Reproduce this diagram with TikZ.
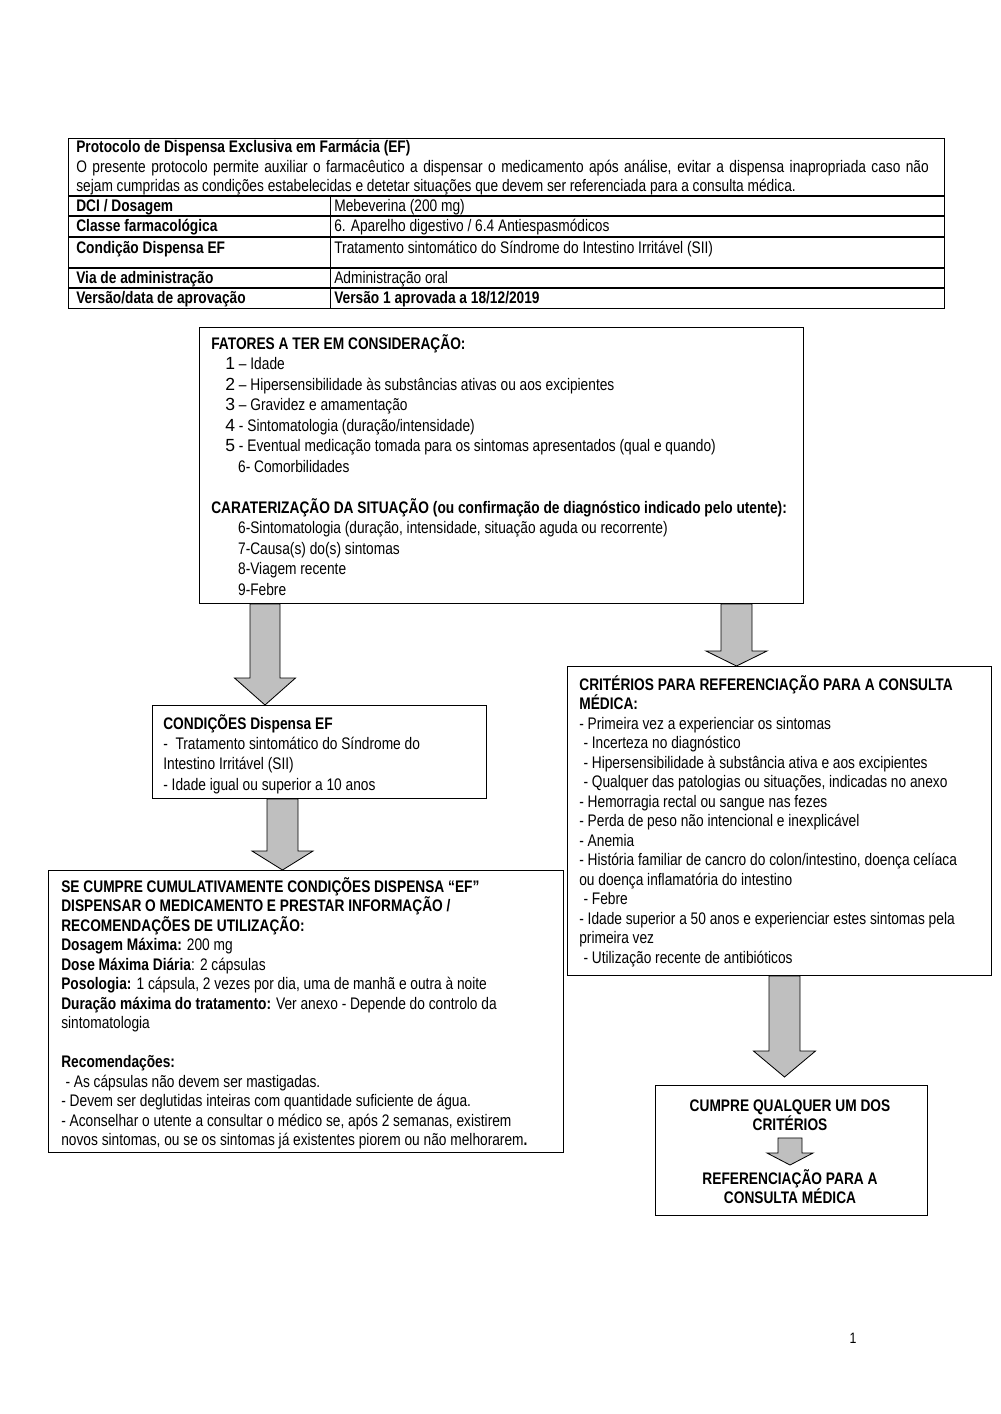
\documentclass[tikz,border=0pt]{standalone}
\usepackage{fontspec}
\setmainfont{Liberation Sans}[FakeStretch=0.82]
\newfontfamily\digitfont{Liberation Sans}
\usetikzlibrary{calc,positioning}
\setlength{\lineskiplimit}{-20pt}

\newdimen\pxu \pxu=0.021cm
\newcommand{\fnum}[1]{{\digitfont\fontsize{10.5}{12}\selectfont #1}}
% block arrow: from, tip, shaft half width, head half width, head length
\newcommand{\blockarrow}[5]{%
  \draw[barrow] ($(#1)+(-#3,0)$) -- ($(#2)+(-#3,-#5)$) -- ($(#2)+(-#4,-#5)$) -- (#2)
    -- ($(#2)+(#4,-#5)$) -- ($(#2)+(#3,-#5)$) -- ($(#1)+(#3,0)$) -- cycle;}

\begin{document}
\begin{tikzpicture}[x=0.021cm,y=-0.021cm,
  box/.style 2 args={draw,line width=0.6pt,anchor=north west,inner sep=0pt,
    minimum width=#1\pxu,minimum height=#2\pxu},
  txt/.style={anchor=north west,inner sep=0pt,align=left,font=\fontsize{10}{11.65}\selectfont},
  ctxt/.style={anchor=north,inner sep=0pt,align=center,font=\fontsize{10}{11.65}\selectfont\bfseries},
  barrow/.style={draw,line width=0.5pt,fill=gray!50,line join=miter}]
\useasboundingbox (0,0) rectangle (1000,1414);

% table
\node[box={876}{170}] (tab) at (68,138) {};
\foreach \ry in {58,78,99,130,150}
  \draw[line width=0.6pt] ($(tab.north west)+(0,\ry)$) -- ($(tab.north east)+(0,\ry)$);
\draw[line width=0.6pt] ($(tab.north west)+(262,58)$) -- ($(tab.south west)+(262,0)$);
\node[txt] (head) at (76,139) {\strut\textbf{Protocolo de Dispensa Exclusiva em Farmácia (EF)}\\
  \hbox to 17.9cm{O presente protocolo permite auxiliar o farmacêutico a dispensar o medicamento após análise, evitar a dispensa inapropriada caso não}\\
  sejam cumpridas as condições estabelecidas e detetar situações que devem ser referenciada para a consulta médica.};
\node[txt] (k1) at (76,198) {\strut\textbf{DCI / Dosagem}};
\node[txt] (v1) at (334,198) {\strut Mebeverina (200 mg)};
\node[txt] (k2) at (76,218) {\strut\textbf{Classe farmacológica}};
\node[txt] (v2) at (334,218) {\strut 6. Aparelho digestivo / 6.4 Antiespasmódicos};
\node[txt] (k3) at (76,240) {\strut\textbf{Condição Dispensa EF}};
\node[txt] (v3) at (334,240) {\strut Tratamento sintomático do Síndrome do Intestino Irritável (SII)};
\node[txt] (k4) at (76,270) {\strut\textbf{Via de administração}};
\node[txt] (v4) at (334,270) {\strut Administração oral};
\node[txt] (k5) at (76,290) {\strut\textbf{Versão/data de aprovação}};
\node[txt] (v5) at (334,290) {\strut\textbf{Versão 1 aprovada a 18/12/2019}};

% boxes
\node[box={604}{276}] (fat) at (199,327) {};
\node[box={334}{93}] (cond) at (152,705) {};
\node[box={424}{309}] (crit) at (567,666) {};
\node[box={515}{282}] (se) at (48,870) {};
\node[box={272}{130}] (cumpre) at (655,1085) {};

\node[txt,font=\fontsize{10}{12.25}\selectfont] (fattxt) at (211,334) {\strut\textbf{FATORES A TER EM CONSIDERAÇÃO:}\\
  \hspace*{8.4pt}\fnum{1} – Idade\\
  \hspace*{8.4pt}\fnum{2} – Hipersensibilidade às substâncias ativas ou aos excipientes\\
  \hspace*{8.4pt}\fnum{3} – Gravidez e amamentação\\
  \hspace*{8.4pt}\fnum{4} - Sintomatologia (duração/intensidade)\\
  \hspace*{8.4pt}\fnum{5} - Eventual medicação tomada para os sintomas apresentados (qual e quando)\\
  \hspace*{16pt}6- Comorbilidades\\[12.25pt]
  \textbf{CARATERIZAÇÃO DA SITUAÇÃO (ou confirmação de diagnóstico indicado pelo utente):}\\
  \hspace*{16pt}6-Sintomatologia (duração, intensidade, situação aguda ou recorrente)\\
  \hspace*{16pt}7-Causa(s) do(s) sintomas\\
  \hspace*{16pt}8-Viagem recente\\
  \hspace*{16pt}9-Febre};

\node[txt,font=\fontsize{10}{12.1}\selectfont] (condtxt) at (163,714) {\strut\textbf{CONDIÇÕES Dispensa EF}\\
  -\ \ Tratamento sintomático do Síndrome do\\
  Intestino Irritável (SII)\\
  - Idade igual ou superior a 10 anos};

\node[txt] (crittxt) at (579,675) {\strut\textbf{CRITÉRIOS PARA REFERENCIAÇÃO PARA A CONSULTA}\\
  \textbf{MÉDICA:}\\
  - Primeira vez a experienciar os sintomas\\
  \hspace*{2.5pt}- Incerteza no diagnóstico\\
  \hspace*{2.5pt}- Hipersensibilidade à substância ativa e aos excipientes\\
  \hspace*{2.5pt}- Qualquer das patologias ou situações, indicadas no anexo\\
  - Hemorragia rectal ou sangue nas fezes\\
  - Perda de peso não intencional e inexplicável\\
  - Anemia\\
  - História familiar de cancro do colon/intestino, doença celíaca\\
  ou doença inflamatória do intestino\\
  \hspace*{2.5pt}- Febre\\
  - Idade superior a 50 anos e experienciar estes sintomas pela\\
  primeira vez\\
  \hspace*{2.5pt}- Utilização recente de antibióticos};

\node[txt] (setxt) at (61,877) {\strut\textbf{SE CUMPRE CUMULATIVAMENTE CONDIÇÕES DISPENSA “EF”}\\
  \textbf{DISPENSAR O MEDICAMENTO E PRESTAR INFORMAÇÃO /}\\
  \textbf{RECOMENDAÇÕES DE UTILIZAÇÃO:}\\
  \textbf{Dosagem Máxima:} 200 mg\\
  \textbf{Dose Máxima Diária}: 2 cápsulas\\
  \textbf{Posologia:} 1 cápsula, 2 vezes por dia, uma de manhã e outra à noite\\
  \textbf{Duração máxima do tratamento:} Ver anexo - Depende do controlo da\\
  sintomatologia\\[11.65pt]
  \textbf{Recomendações:}\\
  \hspace*{2.5pt}- As cápsulas não devem ser mastigadas.\\
  - Devem ser deglutidas inteiras com quantidade suficiente de água.\\
  - Aconselhar o utente a consultar o médico se, após 2 semanas, existirem\\
  novos sintomas, ou se os sintomas já existentes piorem ou não melhorarem\textbf{.}};

\node[ctxt] (q1) at (790,1097) {\strut CUMPRE QUALQUER UM DOS\\CRITÉRIOS};
\node[ctxt] (q2) at (790,1169) {\strut REFERENCIAÇÃO PARA A\\CONSULTA MÉDICA};

% arrows
\blockarrow{$(fat.south west)+(66,0)$}{$(cond.north west)+(113,0)$}{15}{30.5}{27}
\blockarrow{$(cond.south west)+(130.5,0)$}{$(se.north west)+(234.5,0)$}{15.5}{30.5}{19}
\blockarrow{$(fat.south west)+(537.5,0)$}{$(crit.north west)+(169.5,0)$}{15.5}{30.5}{15}
\blockarrow{$(crit.south west)+(217.5,0)$}{$(cumpre.north west)+(129.5,-8)$}{15.5}{31}{26}
\blockarrow{$(q1.south)+(0,7)$}{$(q2.north)+(0,-4)$}{12}{23}{12}

\node[inner sep=0pt,font=\fontsize{9}{10}\selectfont] (pg) at (853,1338) {1};
\end{tikzpicture}
\end{document}
